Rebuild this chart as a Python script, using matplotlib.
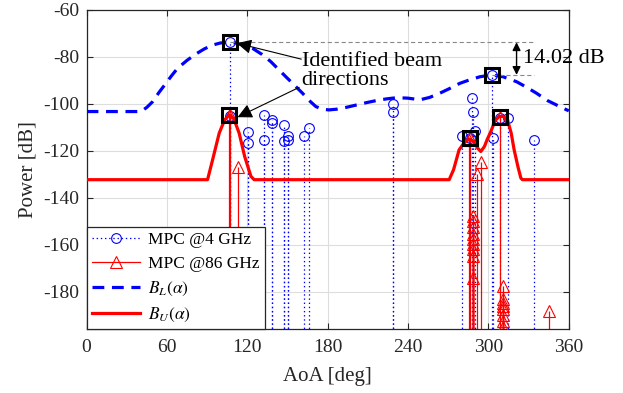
import numpy as np
import matplotlib
matplotlib.use('Agg')
import matplotlib.pyplot as plt
from matplotlib.lines import Line2D
from matplotlib.legend_handler import HandlerLine2D

plt.rcParams.update({'font.family': 'serif', 'font.serif': ['Liberation Serif', 'DejaVu Serif'],
                     'mathtext.fontset': 'stix', 'axes.unicode_minus': False,
                     'lines.scale_dashes': False})

BLUE, RED, INK = '#0000FF', '#FF0000', '#262626'

# B_L(alpha): lower-band beam power (dashed)
bl_deg = [0, 40.6, 45, 49.3, 54, 59.2, 63.5, 67.9, 75, 81.6, 88, 94, 100, 106.5, 112, 118, 123.9,
          131, 137.6, 143, 148.8, 155, 161.2, 166, 171.2, 176, 181, 186.6, 194, 201.5, 209, 216.5,
          224, 231.4, 240, 248.8, 256, 263.7, 271, 278.6, 286, 293.6, 302.3, 311, 321, 328, 335.9,
          344, 353.3, 360]
bl_pow = [-103.3, -103.3, -101.5, -99.1, -95.2, -91.3, -88.0, -84.9, -81.5, -78.8, -76.6, -75.0,
          -74.1, -73.8, -74.2, -75.1, -76.4, -79.0, -82.1, -85.2, -88.5, -92.0, -95.5, -98.5,
          -101.2, -102.3, -102.6, -102.3, -101.5, -100.5, -99.5, -98.6, -97.9, -97.4, -97.6,
          -98.3, -97.3, -95.5, -93.5, -91.3, -89.8, -88.5, -87.7, -88.5, -90.6, -92.8, -95.5,
          -98.6, -101.2, -103.0]

# B_U(alpha): upper-band beam power (solid)
bu_deg = [0, 90.3, 94, 99, 103, 106.5, 110, 113.9, 118, 122.7, 125.1, 270.7, 274, 278.1, 282,
          285.6, 289, 292, 294.3, 297, 299, 301.8, 305, 308, 311, 314.2, 317, 319.2, 322, 324.2,
          325.4, 360]
bu_pow = [-132.3, -132.3, -124, -112.5, -106.9, -104.7, -106.5, -112.5, -122.4, -130.9, -132.3,
          -132.3, -128, -119.6, -116.5, -115, -116, -118.9, -120.3, -118.2, -115.3, -111.8,
          -107.1, -105.4, -105.4, -106.8, -112.5, -119.6, -126.7, -131.6, -132.3, -132.3]

# MPCs @4 GHz
m4_deg = [107, 107, 120.2, 120.2, 132.6, 132.6, 138.1, 138.1, 147.5, 147.5, 150.5, 150, 162.4,
          166.2, 228.4, 228.4, 280.6, 286.6, 287.4, 288.6, 289.6, 302.3, 303.5, 308.5, 314.5, 333.9]
m4_pow = [-73.8, -105.0, -112.2, -116.7, -104.7, -115.6, -107.1, -108.2, -109.0, -116.0, -113.9,
          -115.6, -113.5, -110.4, -100.2, -103.7, -113.9, -114.6, -97.6, -103.3, -111.5, -87.7,
          -114.6, -106.0, -106.1, -115.6]

# MPCs @86 GHz
m86_deg = [106.5, 107.2, 112.7, 285.6, 286.6, 291.6, 294.6, 308.5, 345.3,
           288.6, 288.6, 288.6, 288.6, 288.6, 288.6, 288.6, 288.6, 288.6,
           311, 311, 311, 311, 311, 311, 311, 311]
m86_pow = [-105.0, -104.8, -126.9, -115.3, -114.7, -129.7, -124.8, -105.6, -188.0,
           -147.6, -149.7, -152.5, -155.4, -157.5, -159.8, -161.7, -164.7, -174.0,
           -177.5, -183.3, -184.7, -186.1, -187.5, -190.1, -192.5, -194.9]

# identified beam directions (squares)
sq_deg = [107, 302.3, 106.5, 286.6, 308.5]
sq_pow = [-73.8, -87.7, -104.8, -114.7, -105.6]
gap_label = '14.02 dB'

YMIN, YMAX = -196, -60


class EndMarker(HandlerLine2D):
    def get_xdata(self, legend, xdescent, ydescent, width, height, fontsize):
        xd = np.array([-xdescent, -xdescent + width])
        return xd, np.array([-xdescent + width - 3])


fig = plt.figure(figsize=(6.23, 3.93), dpi=100)
ax = fig.add_axes([0.139, 0.162, 0.774, 0.813])

ax.vlines(m4_deg, YMIN - 5, m4_pow, colors=BLUE, linestyles=(0, (1, 2)), lw=0.9, zorder=2)
ax.plot(m4_deg, m4_pow, 'o', ms=7, mfc='none', mec=BLUE, mew=0.8, zorder=3)
ax.vlines(m86_deg, YMIN - 5, m86_pow, colors=RED, lw=0.9, zorder=2)
ax.plot(m86_deg, m86_pow, '^', ms=8, mfc='none', mec=RED, mew=0.8, zorder=3)

ax.plot(bl_deg, bl_pow, color=BLUE, lw=2.3, dashes=(8.5, 5.5), zorder=4)
ax.plot(bu_deg, bu_pow, color=RED, lw=2.3, zorder=4)
ax.plot(sq_deg, sq_pow, 's', ms=9.5, mfc='none', mec='k', mew=2.2, zorder=6)

# gap between the two lower-band peaks
ax.plot([sq_deg[0], 334], [sq_pow[0]] * 2, color='#888888', lw=0.8, ls=(0, (3, 2)), zorder=5)
ax.plot([sq_deg[1], 334], [sq_pow[1]] * 2, color='#888888', lw=0.8, ls=(0, (3, 2)), zorder=5)
ax.annotate('', xy=(321, sq_pow[1]), xytext=(321, sq_pow[0]),
            arrowprops=dict(arrowstyle='<|-|>', color='k', lw=1.0, mutation_scale=12,
                            shrinkA=0, shrinkB=0))
ax.text(325.5, (sq_pow[0] + sq_pow[1]) / 2, gap_label, fontsize=16, va='center', ha='left',
        clip_on=False, zorder=7)

ax.text(160.5, -86.0, 'Identified beam\ndirections', fontsize=16, va='center', ha='left',
        linespacing=0.95, zorder=7)
for tail, head in [((160.3, -81.0), (112.2, -74.2)), ((158.7, -93.0), (112.7, -105.7))]:
    ax.annotate('', xy=head, xytext=tail,
                arrowprops=dict(arrowstyle='-|>', color='k', lw=0.8, mutation_scale=22,
                                shrinkA=0, shrinkB=0), zorder=7)

ax.set_xlim(0, 360)
ax.set_ylim(YMIN, YMAX)
ax.set_xticks(np.arange(0, 361, 60))
ax.set_yticks(np.arange(-180, -59, 20))
ax.grid(True, color='#DDDDDD', lw=0.8)
ax.set_axisbelow(True)
ax.tick_params(direction='in', top=True, right=True, labelsize=14, colors=INK, length=4)
ax.tick_params(axis='x', pad=7)
ax.tick_params(axis='y', pad=5)
for s in ax.spines.values():
    s.set_color(INK)
    s.set_linewidth(0.9)
ax.set_xlabel('AoA [deg]', fontsize=15, color=INK, labelpad=8)
ax.set_ylabel('Power [dB]', fontsize=15, color=INK, labelpad=4)

handles = [Line2D([], [], color=BLUE, ls=(0, (1, 2)), lw=0.9, marker='o', ms=7, mfc='none', mew=0.8),
           Line2D([], [], color=RED, lw=0.9, marker='^', ms=8, mfc='none', mew=0.8),
           Line2D([], [], color=BLUE, lw=2.3, dashes=(8.5, 5.5)),
           Line2D([], [], color=RED, lw=2.3)]
labels = ['MPC @4 GHz', 'MPC @86 GHz', r'$B_L(\alpha)$', r'$B_U(\alpha)$']
leg = ax.legend(handles, labels, loc='lower left', borderaxespad=0, fontsize=12.5,
                handlelength=2.8, handletextpad=0.45, labelspacing=0.45, fancybox=False,
                framealpha=1, edgecolor=INK, borderpad=0.3,
                handler_map={handles[0]: EndMarker(numpoints=1), handles[1]: EndMarker(numpoints=1)})
leg.get_frame().set_linewidth(0.9)
leg.set_zorder(8)

fig.savefig('out.png', dpi=100)
